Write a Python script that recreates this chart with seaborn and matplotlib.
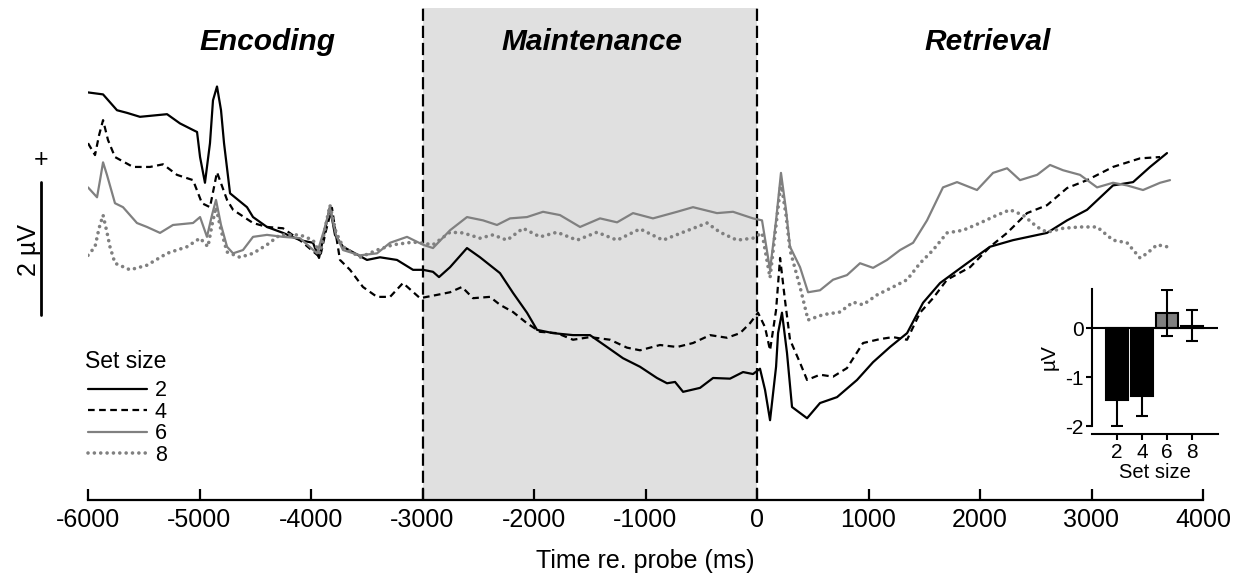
import numpy as np
import pandas as pd
import matplotlib
matplotlib.use('Agg')
import matplotlib.pyplot as plt
import matplotlib.transforms as mtransforms
import seaborn as sns

# ERP traces: time re. probe (ms) and amplitude (uV)
time_2 = [-6000, -5865, -5740, -5650, -5534, -5291, -5175, -5058, -5022, -4995, -4951, -4906,
          -4879, -4843, -4807, -4780, -4726, -4574, -4520, -4395, -4251, -4099, -3982, -3928,
          -3865, -3830, -3785, -3713, -3498, -3381, -3229, -3085, -2995, -2906, -2852, -2753,
          -2601, -2484, -2305, -2188, -2063, -1973, -1829, -1650, -1498, -1345, -1202, -1049,
          -897, -807, -735, -663, -511, -394, -242, -125, -36, 27, 72, 117, 171, 189, 224,
          269, 314, 449, 565, 718, 897, 1041, 1193, 1346, 1489, 1642, 1884, 2090, 2296, 2601,
          2781, 2960, 3193, 3373, 3525, 3677]
amp_2 = [2.39, 2.36, 2.12, 2.08, 2.02, 2.06, 1.92, 1.82, 1.79, 1.41, 1.02, 1.62,
         2.27, 2.48, 2.12, 1.62, 0.86, 0.65, 0.50, 0.35, 0.26, 0.15, 0.11, -0.12,
         0.38, 0.65, 0.23, 0.05, -0.15, -0.11, -0.15, -0.30, -0.30, -0.33, -0.41, -0.26,
         0.03, -0.11, -0.35, -0.65, -0.95, -1.21, -1.26, -1.29, -1.29, -1.47, -1.64, -1.77,
         -1.94, -2.02, -2.00, -2.15, -2.09, -1.94, -1.95, -1.85, -1.88, -1.80, -2.12, -2.58, -1.77, -1.26, -0.95,
         -1.56, -2.38, -2.55, -2.32, -2.23, -1.97, -1.70, -1.47, -1.26, -0.80, -0.50, -0.20, 0.05, 0.15, 0.26,
         0.45, 0.61, 0.98, 1.03, 1.26, 1.47]

time_4 = [-6000, -5937, -5901, -5865, -5821, -5758, -5596, -5444, -5327, -5202, -5058, -4978,
          -4906, -4843, -4753, -4699, -4520, -4395, -4251, -4099, -3919, -3865, -3812, -3776,
          -3740, -3650, -3534, -3408, -3291, -3175, -3022, -2870, -2753, -2646, -2547, -2395,
          -2305, -2188, -2063, -1946, -1794, -1650, -1498, -1318, -1166, -1049, -870, -717,
          -574, -421, -269, -152, -63, 9, 72, 117, 171, 207, 251, 296, 386, 449, 565, 682,
          807, 951, 1103, 1220, 1346, 1462, 1579, 1704, 1911, 2090, 2243, 2422, 2601, 2781,
          2960, 3193, 3435, 3615]
amp_4 = [1.62, 1.44, 1.74, 1.97, 1.67, 1.41, 1.26, 1.26, 1.30, 1.14, 1.06, 0.71,
         0.65, 1.18, 0.76, 0.61, 0.41, 0.35, 0.33, 0.15, -0.11, 0.30, 0.64, 0.23,
         -0.15, -0.30, -0.56, -0.71, -0.71, -0.50, -0.73, -0.68, -0.64, -0.56, -0.73, -0.71,
         -0.83, -0.94, -1.11, -1.24, -1.26, -1.36, -1.32, -1.36, -1.48, -1.52, -1.44, -1.47,
         -1.41, -1.29, -1.33, -1.26, -1.11, -0.95, -1.17, -1.52, -0.91, -0.12, -0.76, -1.36, -1.71, -1.97, -1.89, -1.92,
         -1.79, -1.41, -1.35, -1.32, -1.36, -0.95, -0.73, -0.45, -0.26, 0.05, 0.26, 0.56, 0.68, 0.94,
         1.06, 1.26, 1.39, 1.41]

time_6 = [-6000, -5919, -5892, -5865, -5830, -5758, -5686, -5561, -5471, -5354, -5238, -5058,
          -4995, -4933, -4888, -4852, -4807, -4753, -4699, -4610, -4520, -4395, -4251, -4099,
          -3946, -3883, -3830, -3776, -3713, -3560, -3408, -3291, -3139, -2995, -2906, -2753,
          -2601, -2457, -2332, -2215, -2063, -1919, -1767, -1587, -1408, -1255, -1112, -933,
          -717, -574, -359, -215, -36, 45, 117, 171, 215, 260, 296, 386, 458, 565, 682, 807,
          924, 1041, 1166, 1283, 1400, 1525, 1668, 1794, 1973, 2117, 2243, 2359, 2512, 2628,
          2745, 2897, 3050, 3193, 3319, 3462, 3615, 3704]
amp_6 = [0.95, 0.80, 1.06, 1.33, 1.14, 0.71, 0.65, 0.41, 0.35, 0.26, 0.38, 0.41,
         0.50, 0.20, 0.53, 0.76, 0.38, 0.05, -0.05, 0.00, 0.20, 0.23, 0.20, 0.18,
         -0.05, 0.30, 0.64, 0.23, 0.00, -0.08, -0.05, 0.11, 0.20, 0.08, 0.03, 0.30,
         0.50, 0.45, 0.38, 0.48, 0.50, 0.58, 0.53, 0.35, 0.48, 0.42, 0.56, 0.48,
         0.58, 0.65, 0.56, 0.58, 0.48, 0.45, -0.30, 0.45, 1.17, 0.61, 0.05, -0.26, -0.64, -0.61, -0.45, -0.38,
         -0.20, -0.27, -0.15, 0.00, 0.11, 0.45, 0.95, 1.03, 0.91, 1.17, 1.24, 1.06, 1.14, 1.29,
         1.21, 1.14, 0.95, 1.02, 0.98, 0.91, 1.02, 1.06]

time_8 = [-6000, -5937, -5901, -5865, -5830, -5803, -5758, -5623, -5471, -5291, -5112, -4995,
          -4924, -4888, -4852, -4807, -4753, -4637, -4520, -4395, -4278, -4099, -3982, -3919,
          -3874, -3830, -3776, -3713, -3560, -3408, -3264, -3085, -3022, -2906, -2753, -2637,
          -2484, -2368, -2242, -2098, -1946, -1794, -1614, -1435, -1255, -1049, -843, -663,
          -448, -332, -179, -36, 45, 117, 171, 215, 260, 296, 386, 458, 592, 745, 861, 951,
          1077, 1220, 1346, 1462, 1579, 1704, 1848, 2000, 2153, 2269, 2386, 2512, 2601, 2745,
          2897, 3050, 3193, 3319, 3435, 3498, 3588, 3677]
amp_8 = [-0.08, 0.05, 0.33, 0.53, 0.27, 0.05, -0.20, -0.30, -0.23, -0.05, 0.05, 0.18,
         0.05, 0.38, 0.65, 0.30, -0.03, -0.11, -0.05, 0.08, 0.23, 0.23, 0.15, -0.05,
         0.33, 0.68, 0.27, 0.05, -0.11, 0.00, 0.08, 0.12, 0.11, 0.08, 0.27, 0.26,
         0.18, 0.23, 0.15, 0.33, 0.20, 0.27, 0.15, 0.27, 0.15, 0.32, 0.15, 0.27,
         0.41, 0.27, 0.15, 0.18, 0.26, -0.42, 0.38, 1.02, 0.53, 0.00, -0.56, -1.06, -0.98, -0.94, -0.79, -0.83,
         -0.68, -0.56, -0.45, -0.20, 0.00, 0.26, 0.30, 0.41, 0.53, 0.61, 0.53, 0.35, 0.27, 0.33,
         0.35, 0.35, 0.15, 0.11, -0.12, -0.05, 0.08, 0.05]

set_labels = ['2', '4', '6', '8']

# inset: mean amplitude per set size with error bars
bar_means = [-1.47, -1.38, 0.31, 0.05]
bar_errs = [0.53, 0.42, 0.47, 0.32]

phase_names = ['Encoding', 'Maintenance', 'Retrieval']
phase_centers = [-4390, -1480, 2070]

sns.set_theme(style='white')
plt.rcParams['font.family'] = ['Liberation Sans', 'DejaVu Sans']
plt.rcParams['axes.unicode_minus'] = False
plt.rcParams['text.color'] = 'black'
plt.rcParams['axes.labelcolor'] = 'black'
plt.rcParams['xtick.color'] = 'black'
plt.rcParams['ytick.color'] = 'black'

fig = plt.figure(figsize=(12.55, 5.79), dpi=100)
ax = fig.add_axes([88 / 1255, 1 - 500 / 579, 1115 / 1255, 492 / 579])

# maintenance period
ax.axvspan(-3000, 0, color='#e0e0e0', lw=0, zorder=0)
for xv in (-3000, 0):
    ax.axvline(xv, color='black', lw=1.6, ls=(0, (5.5, 2.2)), zorder=1)

styles = [
    dict(color='black', linewidth=1.6, linestyle='-'),
    dict(color='black', linewidth=1.6, linestyle=(0, (3, 2))),
    dict(color='#808080', linewidth=1.6, linestyle='-'),
    dict(color='#808080', linewidth=2.6, linestyle=(0, (0.01, 1.75)), dash_capstyle='round'),
]
series = [(time_2, amp_2), (time_4, amp_4), (time_6, amp_6), (time_8, amp_8)]
handles = []
for (t, a), st, lab in zip(series, styles, set_labels):
    sns.lineplot(x=t, y=a, ax=ax, sort=False, estimator=None, label=lab, zorder=3, **st)
    handles.append(ax.lines[-1])

ax.set_xlim(-6000, 4000)
ax.set_ylim(-3.79, 3.67)
ax.set_xticks(range(-6000, 4001, 1000))
ax.set_yticks([])
for s in ('top', 'left', 'right'):
    ax.spines[s].set_visible(False)
ax.spines['bottom'].set_linewidth(1.6)
ax.spines['bottom'].set_color('black')
ax.tick_params(axis='x', direction='in', length=8, width=1.6, labelsize=18, pad=6, bottom=True)
ax.set_xlabel('Time re. probe (ms)', fontsize=18, labelpad=12)
ax.set_ylabel('')

for name, xc in zip(phase_names, phase_centers):
    ax.text(xc, 0.93, name, transform=ax.get_xaxis_transform(), ha='center', va='center',
            fontsize=21.5, fontweight='bold', fontstyle='italic')

# legend: title as its own text, entries below
ax.text(-0.003, 0.2825, 'Set size', transform=ax.transAxes, ha='left', va='center', fontsize=16.5)
leg = ax.legend(handles, set_labels, loc='upper left', bbox_to_anchor=(0.0, 0.243),
                frameon=False, fontsize=15.5, handlelength=2.74, handletextpad=0.37,
                labelspacing=0.02, borderpad=0, borderaxespad=0)

# 2 uV scale bar left of the axes
trans = mtransforms.blended_transform_factory(fig.transFigure, ax.transData)
ax.plot([41 / 1255, 41 / 1255], [-0.98, 1.03], color='black', lw=2, transform=trans, clip_on=False)
ax.text(41 / 1255, 1.36, '+', transform=trans, ha='center', va='center', fontsize=18)
ax.text(29 / 1255, 0.0, '2 µV', transform=trans, ha='center', va='center', rotation=90, fontsize=18)

# inset bar chart
ins = fig.add_axes([1092 / 1255, 1 - 426 / 579, 126 / 1255, 137 / 579])
ins.set_facecolor('none')
bar_df = pd.DataFrame({'set_size': set_labels, 'uv': bar_means})
sns.barplot(data=bar_df, x='set_size', y='uv', hue='set_size',
            palette=['black', 'black', '#7f7f7f', '#a8a8a8'], edgecolor='black', linewidth=1.5,
            width=0.9, errorbar=None, legend=False, ax=ins)
ins.errorbar(range(len(bar_means)), bar_means, yerr=bar_errs, fmt='none', ecolor='black',
             elinewidth=1.5, capsize=4.3, capthick=1.5, zorder=5)
ins.axhline(0, color='black', lw=1.5, zorder=4)
ins.set_xlim(-1, 4.05)
ins.set_ylim(-2, 0.8)
ins.set_yticks([0, -1, -2])
ins.set_yticklabels(['0', '-1', '-2'])
for s in ('top', 'right'):
    ins.spines[s].set_visible(False)
for s in ('left', 'bottom'):
    ins.spines[s].set_linewidth(1.5)
    ins.spines[s].set_color('black')
ins.spines['bottom'].set_position(('outward', 6))
ins.tick_params(direction='out', length=4, width=1.5, labelsize=15, pad=2, left=True, bottom=True)
ins.set_xlabel('Set size', fontsize=14.5, labelpad=1)
ins.set_ylabel('µV', fontsize=15, labelpad=5)

fig.savefig('out.png', dpi=100)
